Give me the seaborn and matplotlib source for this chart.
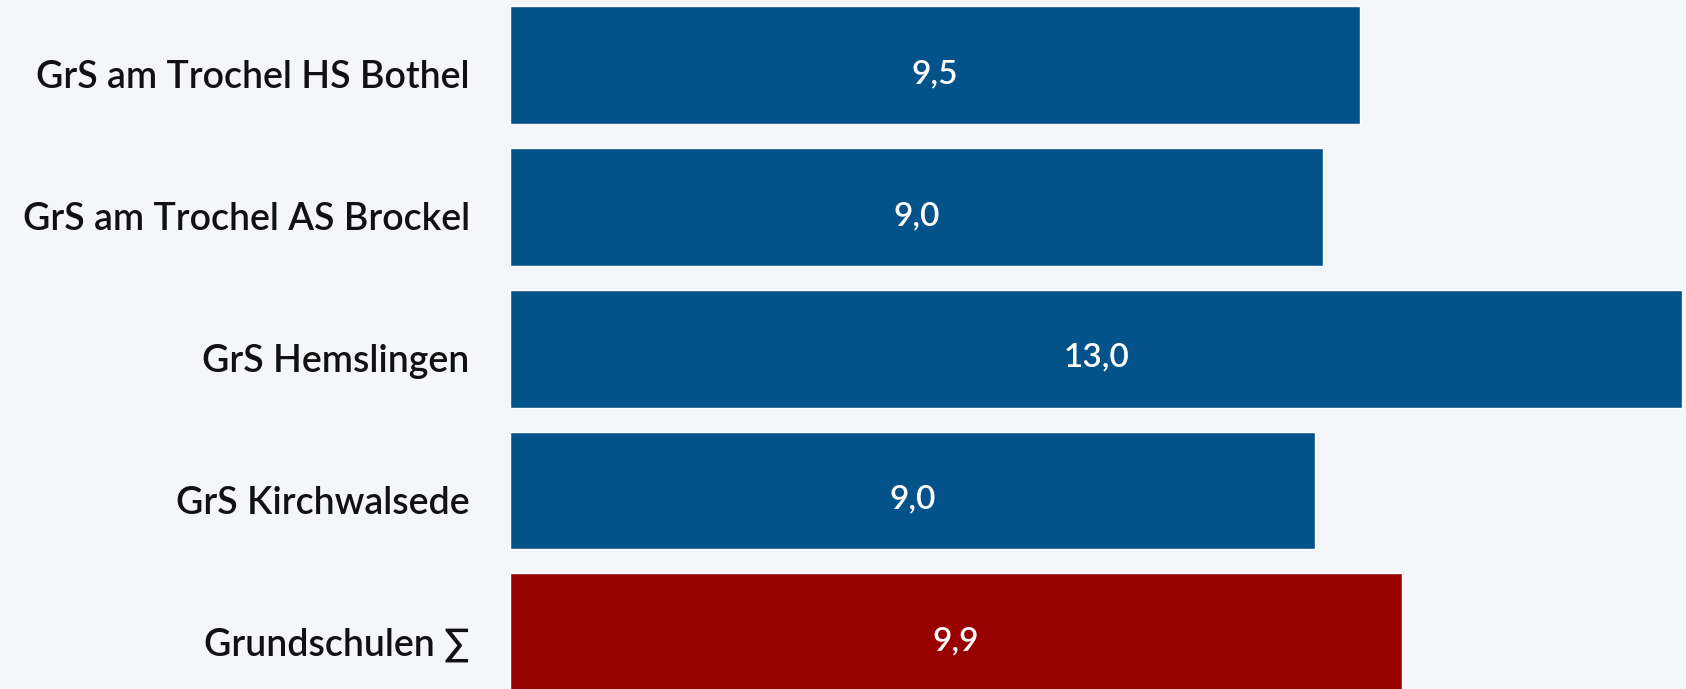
import matplotlib
matplotlib.use("Agg")
import matplotlib.pyplot as plt
import matplotlib.transforms as mtransforms
import seaborn as sns
import pandas as pd

categories = ["GrS am Trochel HS Bothel", "GrS am Trochel AS Brockel", "GrS Hemslingen",
              "GrS Kirchwalsede", "Grundschulen \u2211"]
values = [9.43, 9.02, 13.0, 8.93, 9.89]
value_labels = ["9,5", "9,0", "13,0", "9,0", "9,9"]
colors = ["#03528A", "#03528A", "#03528A", "#03528A", "#990000"]

bg = "#F4F6FA"
sns.set_theme(style="white")
plt.rcParams["font.family"] = ["Lato", "DejaVu Sans"]

df = pd.DataFrame({"cat": categories, "val": values})

fig = plt.figure(figsize=(16.86, 6.89), dpi=100, facecolor=bg)
ax = fig.add_axes([510 / 1686, 0, 1176 / 1686, 1])
ax.set_facecolor(bg)

sns.barplot(data=df, x="val", y="cat", hue="cat", palette=colors, legend=False,
            orient="h", width=0.83, saturation=1, ax=ax)

ax.set_xlim(0, 13.0 * 1176 / 1172)
ax.set_ylim(4.40, -0.46)

down = mtransforms.ScaledTranslation(0, -9 / 100, fig.dpi_scale_trans)
for i, (v, lab) in enumerate(zip(values, value_labels)):
    ax.text(v / 2, i, lab, ha="center", va="center", color="white",
            fontsize=24, fontweight="semibold", transform=ax.transData + down)

ax.set_xlabel("")
ax.set_ylabel("")
ax.set_xticks([])
ax.tick_params(axis="y", length=0, pad=29, labelsize=27)
for t in ax.get_yticklabels():
    t.set_fontweight("semibold")
    t.set_color("#111111")
    t.set_transform(t.get_transform() + down)
for s in ax.spines.values():
    s.set_visible(False)

fig.savefig("out.png", dpi=100, facecolor=bg)
